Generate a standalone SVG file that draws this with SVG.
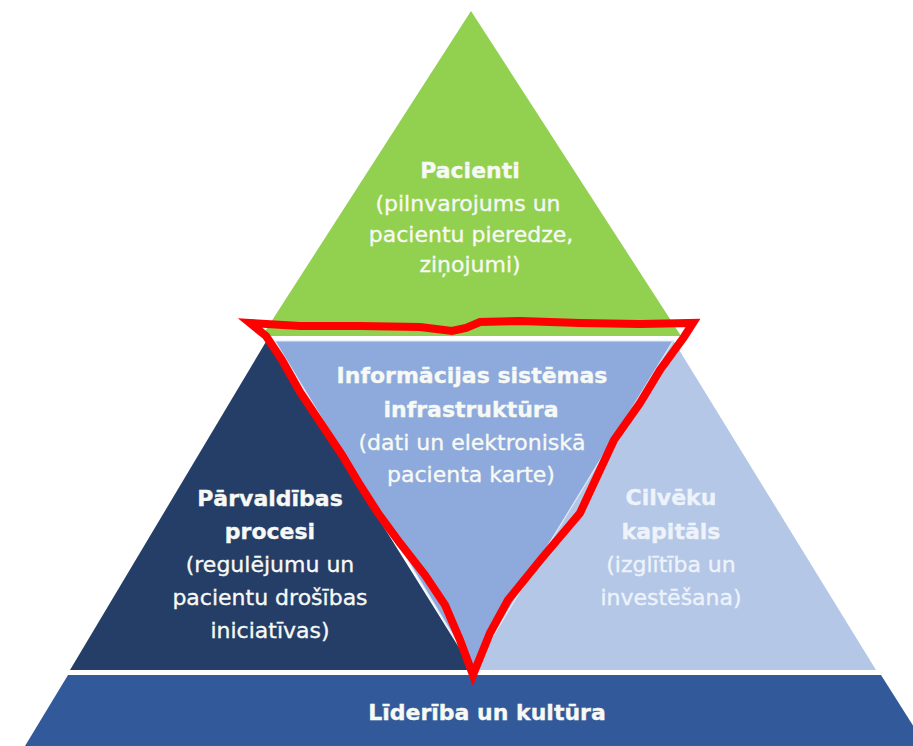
<svg xmlns="http://www.w3.org/2000/svg" width="913" height="746" viewBox="0 0 913 746">
  <style>
    text { font-family: "DejaVu Sans", "Liberation Sans", sans-serif; font-size: 22px; text-anchor: middle; stroke-width: 0.35; }
    .b { font-weight: bold; }
    .w { fill: #f7f9f4; stroke: #f7f9f4; }
    .lt { fill: #eef3fb; stroke: #eef3fb; }
    .hl { fill: none; stroke: #ff0000; stroke-width: 8; stroke-linejoin: miter; stroke-miterlimit: 10; }
  </style>
  <rect width="913" height="746" fill="#ffffff"/>
  <g id="pacienti">
    <polygon points="471,11 262,336 681,336" fill="#92d050"/>
    <text class="b w" x="470" y="178">Pacienti</text>
    <text class="w" x="468" y="211">(pilnvarojums un</text>
    <text class="w" x="471" y="242">pacientu pieredze,</text>
    <text class="w" x="470" y="272">ziņojumi)</text>
  </g>
  <g id="parvaldibas">
    <polygon points="267,340 70,670 473,670" fill="#253e68"/>
    <text class="b w" x="270" y="506">Pārvaldības</text>
    <text class="b w" x="270" y="539">procesi</text>
    <text class="w" x="270" y="572">(regulējumu un</text>
    <text class="w" x="270" y="605">pacientu drošības</text>
    <text class="w" x="270" y="638">iniciatīvas)</text>
  </g>
  <g id="cilveku">
    <polygon points="673,340 876,670 473,670" fill="#b4c7e7"/>
    <text class="b lt" x="671" y="505">Cilvēku</text>
    <text class="b lt" x="671" y="539">kapitāls</text>
    <text class="lt" x="671" y="572">(izglītība un</text>
    <text class="lt" x="671" y="605">investēšana)</text>
  </g>
  <g id="informacijas">
    <polygon points="275,341 673,341 473,668" fill="#8eaadc" stroke="#dfe7f5" stroke-width="1.2"/>
    <text class="b w" x="472" y="383">Informācijas sistēmas</text>
    <text class="b w" x="471" y="417">infrastruktūra</text>
    <text class="w" x="472" y="450">(dati un elektroniskā</text>
    <text class="w" x="471" y="482">pacienta karte)</text>
  </g>
  <g id="liderība">
    <polygon points="68,675 881,675 926,746 25,746" fill="#325a9a"/>
    <text class="b w" x="487" y="720">Līderība un kultūra</text>
  </g>
  <g id="highlight">
    <path class="hl" d="M250,323 L300,326 L360,326 L420,327 L452,331 L466,328 L480,322 L520,321 L580,323 L640,324 L693,323 L684,337 L660,370 L640,403 L614,440 L600,470 L580,513 L542,558 L508,600 L490,633 L473,675 L460,640 L445,605 L425,575 L400,543 L378,513 L360,485 L342,455 L322,425 L300,392 L282,360 L266,336 Z"/>
  </g>
</svg>
